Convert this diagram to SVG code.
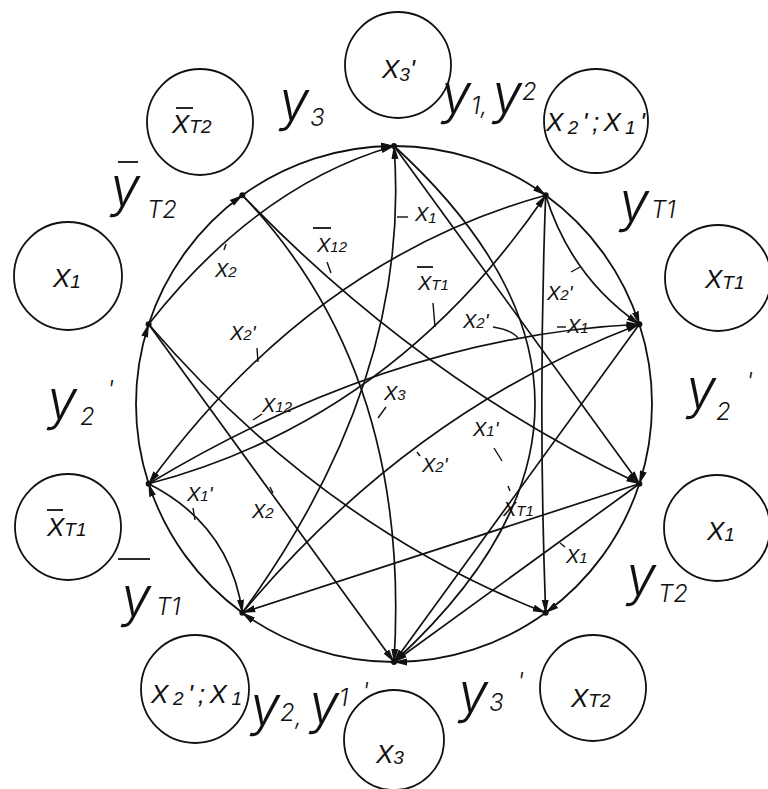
<svg xmlns="http://www.w3.org/2000/svg" width="768" height="789" viewBox="0 0 768 789">
<style>
.arc{fill:none;stroke:#111;stroke-width:1.8}
.ch{fill:none;stroke:#111;stroke-width:1.7}
.oc{fill:none;stroke:#111;stroke-width:1.8}
.tk{fill:none;stroke:#111;stroke-width:1.4}
.bar{stroke:#111;stroke-width:1.8}
.t{font-family:"Liberation Sans",Arial,sans-serif;font-style:italic;fill:#111}
.xo{font-size:26px}
.xs{font-size:19px}
.xi{font-size:20px}
.xis{font-size:15px}
.y{font-family:Inter,"Liberation Sans",Arial,sans-serif;font-weight:300;font-size:54px}
.ys{font-size:24px}
.pt{fill:#111}
</style>
<defs>
<marker id="ah" markerUnits="userSpaceOnUse" markerWidth="14" markerHeight="9" viewBox="0 0 14 9" refX="13" refY="4.5" orient="auto"><path d="M0,1 L14,4.5 L0,8 z" fill="#111"/></marker>
</defs>
<rect x="0" y="0" width="768" height="789" fill="#ffffff"/>

<g id="connectors">
<path class="arc" marker-end="url(#ah)" d="M242.35,195.28 A258,258 0 0 1 394,146"/>
<path class="arc" marker-end="url(#ah)" d="M394,146 A258,258 0 0 1 545.65,195.28"/>
<path class="arc" marker-end="url(#ah)" d="M545.65,195.28 A258,258 0 0 1 639.37,324.27"/>
<path class="arc" marker-end="url(#ah)" d="M639.37,324.27 A258,258 0 0 1 639.37,483.73"/>
<path class="arc" marker-end="url(#ah)" d="M639.37,483.73 A258,258 0 0 1 545.65,612.72"/>
<path class="arc" marker-end="url(#ah)" d="M545.65,612.72 A258,258 0 0 1 394,662"/>
<path class="arc" marker-end="url(#ah)" d="M394,662 A258,258 0 0 1 242.35,612.72"/>
<path class="arc" marker-end="url(#ah)" d="M242.35,612.72 A258,258 0 0 1 148.63,483.73"/>
<path class="arc" marker-end="url(#ah)" d="M148.63,483.73 A258,258 0 0 1 148.63,324.27"/>
<path class="arc" marker-end="url(#ah)" d="M148.63,324.27 A258,258 0 0 1 242.35,195.28"/>

<path class="ch" marker-end="url(#ah)" d="M242.35,612.72 Q412,380 394,146"/>
<path class="ch" marker-end="url(#ah)" d="M242.35,195.28 Q412,372 394,662"/>
<path class="ch" marker-end="url(#ah)" d="M148.63,483.73 Q392,420 545.65,195.28"/>
<path class="ch" marker-end="url(#ah)" d="M545.65,195.28 Q312,260 148.63,483.73"/>
<path class="ch" marker-end="url(#ah)" d="M242.35,195.28 Q420,380 639.37,483.73"/>
<path class="ch" marker-end="url(#ah)" d="M148.63,324.27 Q258,185 394,146"/>
<path class="ch" marker-end="url(#ah)" d="M148.63,324.27 L394,662"/>
<path class="ch" marker-end="url(#ah)" d="M148.63,483.73 Q230,525 242.35,612.72"/>
<path class="ch" marker-end="url(#ah)" d="M639.37,483.73 L242.35,612.72"/>
<path class="ch" marker-end="url(#ah)" d="M242.35,612.72 Q410,412 639.37,324.27"/>
<path class="ch" marker-end="url(#ah)" d="M148.63,483.73 Q394,336 639.37,324.27"/>
<path class="ch" marker-end="url(#ah)" d="M394,146 L639.37,483.73"/>
<path class="ch" marker-end="url(#ah)" d="M394,146 Q676,404 394,662"/>
<path class="ch" marker-end="url(#ah)" d="M545.65,195.28 Q538,404 545.65,612.72"/>
<path class="ch" marker-end="url(#ah)" d="M545.65,195.28 Q571,277 639.37,324.27"/>
<path class="ch" marker-end="url(#ah)" d="M639.37,324.27 L394,662"/>
<path class="ch" marker-end="url(#ah)" d="M639.37,483.73 L394,662"/>
<path class="ch" marker-end="url(#ah)" d="M148.63,324.27 Q322,526 545.65,612.72"/>
</g>

<g id="edge-labels">
<line class="tk" x1="397" y1="217" x2="408" y2="217"/>
<text class="t xi" x="415" y="221">X<tspan class="xis" dy="2">1</tspan></text>

<line class="bar" x1="313" y1="228" x2="331" y2="228"/>
<line class="tk" x1="327" y1="262" x2="331" y2="273"/>
<text class="t xi" x="317" y="252">X<tspan class="xis">12</tspan></text>

<line class="tk" x1="226" y1="244" x2="224" y2="250"/>
<text class="t xi" x="215" y="277">X<tspan class="xis">2</tspan></text>

<line class="bar" x1="417" y1="267" x2="433" y2="267"/>
<line class="tk" x1="433" y1="303" x2="435" y2="327"/>
<text class="t xi" x="418" y="290">X<tspan class="xis">T1</tspan></text>

<line class="tk" x1="257" y1="348" x2="258" y2="362"/>
<text class="t xi" x="230" y="340">X<tspan class="xis">2</tspan>'</text>

<line class="tk" x1="571" y1="272" x2="580" y2="267"/>
<text class="t xi" x="547" y="300">X<tspan class="xis">2</tspan>'</text>

<path class="tk" d="M493,327 Q512,330 518,338"/>
<text class="t xi" x="463" y="328">X<tspan class="xis">2</tspan>'</text>

<line class="tk" x1="557" y1="327" x2="566" y2="327"/>
<text class="t xi" x="567" y="333">X<tspan class="xis">1</tspan></text>

<line class="tk" x1="253" y1="420" x2="262" y2="414"/>
<text class="t xi" x="262" y="412">X<tspan class="xis">12</tspan></text>

<line class="tk" x1="378" y1="418" x2="386" y2="407"/>
<text class="t xi" x="384" y="400">X<tspan class="xis">3</tspan></text>

<line class="tk" x1="494" y1="448" x2="502" y2="461"/>
<text class="t xi" x="473" y="436">X<tspan class="xis">1</tspan>'</text>

<line class="tk" x1="417" y1="452" x2="420" y2="456"/>
<text class="t xi" x="422" y="472">X<tspan class="xis">2</tspan>'</text>

<line class="tk" x1="508" y1="486" x2="510" y2="491"/>
<text class="t xi" x="503" y="516">X<tspan class="xis">T1</tspan></text>

<line class="tk" x1="560" y1="543" x2="565" y2="547"/>
<text class="t xi" x="566" y="563">X<tspan class="xis">1</tspan></text>

<line class="tk" x1="193" y1="508" x2="195" y2="520"/>
<text class="t xi" x="187" y="501">X<tspan class="xis">1</tspan>'</text>

<line class="tk" x1="270" y1="487" x2="273" y2="493"/>
<text class="t xi" x="252" y="518">X<tspan class="xis">2</tspan></text>
</g>

<g id="state-A"><circle class="pt" cx="394" cy="146" r="3"/></g>
<g id="state-B"><circle class="pt" cx="545.65" cy="195.28" r="3"/></g>
<g id="state-C"><circle class="pt" cx="639.37" cy="324.27" r="3"/></g>
<g id="state-D"><circle class="pt" cx="639.37" cy="483.73" r="3"/></g>
<g id="state-E"><circle class="pt" cx="545.65" cy="612.72" r="3"/></g>
<g id="state-F"><circle class="pt" cx="394" cy="662" r="3"/></g>
<g id="state-G"><circle class="pt" cx="242.35" cy="612.72" r="3"/></g>
<g id="state-H"><circle class="pt" cx="148.63" cy="483.73" r="3"/></g>
<g id="state-I"><circle class="pt" cx="148.63" cy="324.27" r="3"/></g>
<g id="state-J"><circle class="pt" cx="242.35" cy="195.28" r="3"/></g>

<g id="cond-top"><circle class="oc" cx="398" cy="65" r="53"/>
<text class="t xo" x="382" y="78">X<tspan class="xs" dy="3">3</tspan><tspan dy="-3">'</tspan></text></g>
<g id="cond-top-right"><circle class="oc" cx="596" cy="121" r="52"/>
<text class="t xo" x="546" y="131" textLength="99" lengthAdjust="spacing">X<tspan class="xs" dy="3">2</tspan><tspan dy="-3">';X</tspan><tspan class="xs" dy="3">1</tspan><tspan dy="-3">'</tspan></text></g>
<g id="cond-right-upper"><circle class="oc" cx="718" cy="278" r="53"/>
<text class="t xo" x="705" y="288">X<tspan class="xs" dy="1">T1</tspan></text></g>
<g id="cond-right-lower"><circle class="oc" cx="717" cy="528" r="53"/>
<text class="t xo" x="707" y="540">X<tspan class="xs" dy="1">1</tspan></text></g>
<g id="cond-bottom-right"><circle class="oc" cx="593" cy="688" r="53"/>
<text class="t xo" x="571" y="707">X<tspan class="xs" dy="0">T2</tspan></text></g>
<g id="cond-bottom"><circle class="oc" cx="394" cy="740" r="50"/>
<text class="t xo" x="376" y="763">X<tspan class="xs" dy="1">3</tspan></text></g>
<g id="cond-bottom-left"><circle class="oc" cx="195" cy="689" r="54"/>
<text class="t xo" x="151" y="703" textLength="91" lengthAdjust="spacing">X<tspan class="xs" dy="2">2</tspan><tspan dy="-2">';X</tspan><tspan class="xs" dy="2">1</tspan></text></g>
<g id="cond-left-lower"><circle class="oc" cx="68" cy="527" r="53"/>
<line class="bar" x1="47" y1="510" x2="63" y2="510"/>
<text class="t xo" x="47" y="536">X<tspan class="xs" dy="0">T1</tspan></text></g>
<g id="cond-left-upper"><circle class="oc" cx="68" cy="276" r="54"/>
<text class="t xo" x="53" y="287">X<tspan class="xs" dy="1">1</tspan></text></g>
<g id="cond-top-left"><circle class="oc" cx="200" cy="122" r="53"/>
<line class="bar" x1="176" y1="108" x2="193" y2="108"/>
<text class="t xo" x="172" y="133">X<tspan class="xs" dy="0">T2</tspan></text></g>

<g id="out-y3"><text class="t y" x="279" y="120">y<tspan class="ys" x="310" y="126">3</tspan></text></g>
<g id="out-y1y2"><text class="t y" x="441" y="113">y<tspan class="ys" x="471" y="114">1,</tspan><tspan x="492" y="113">y</tspan><tspan class="ys" x="522" y="100">2</tspan></text></g>
<g id="out-yT2-bar"><line class="bar" x1="118" y1="162" x2="138" y2="162"/>
<text class="t y" x="110" y="206">y<tspan class="ys" x="147" y="218">T2</tspan></text></g>
<g id="out-yT1"><text class="t y" x="619" y="221">y<tspan class="ys" x="651" y="218">T1</tspan></text></g>
<g id="out-y2-right"><text class="t y" x="686" y="408">y<tspan class="ys" x="716" y="420">2</tspan><tspan class="ys" x="746" y="390">'</tspan></text></g>
<g id="out-yT2"><text class="t y" x="626" y="595">y<tspan class="ys" x="658" y="602">T2</tspan></text></g>
<g id="out-y3p"><text class="t y" x="458" y="712">y<tspan class="ys" x="489" y="711">3</tspan><tspan class="ys" x="517" y="690">'</tspan></text></g>
<g id="out-y2y1p"><text class="t y" x="250" y="725">y<tspan class="ys" x="280" y="721">2</tspan><tspan class="ys" x="295" y="725">,</tspan><tspan x="309" y="723">y</tspan><tspan class="ys" x="339" y="706">1</tspan><tspan class="ys" x="362" y="700">'</tspan></text></g>
<g id="out-yT1-bar"><line class="bar" x1="118" y1="559" x2="150" y2="559"/>
<text class="t y" x="121" y="616">y<tspan class="ys" x="156" y="615">T1</tspan></text></g>
<g id="out-y2-left"><text class="t y" x="47" y="419">y<tspan class="ys" x="80" y="425">2</tspan><tspan class="ys" x="107" y="398">'</tspan></text></g>
</svg>
